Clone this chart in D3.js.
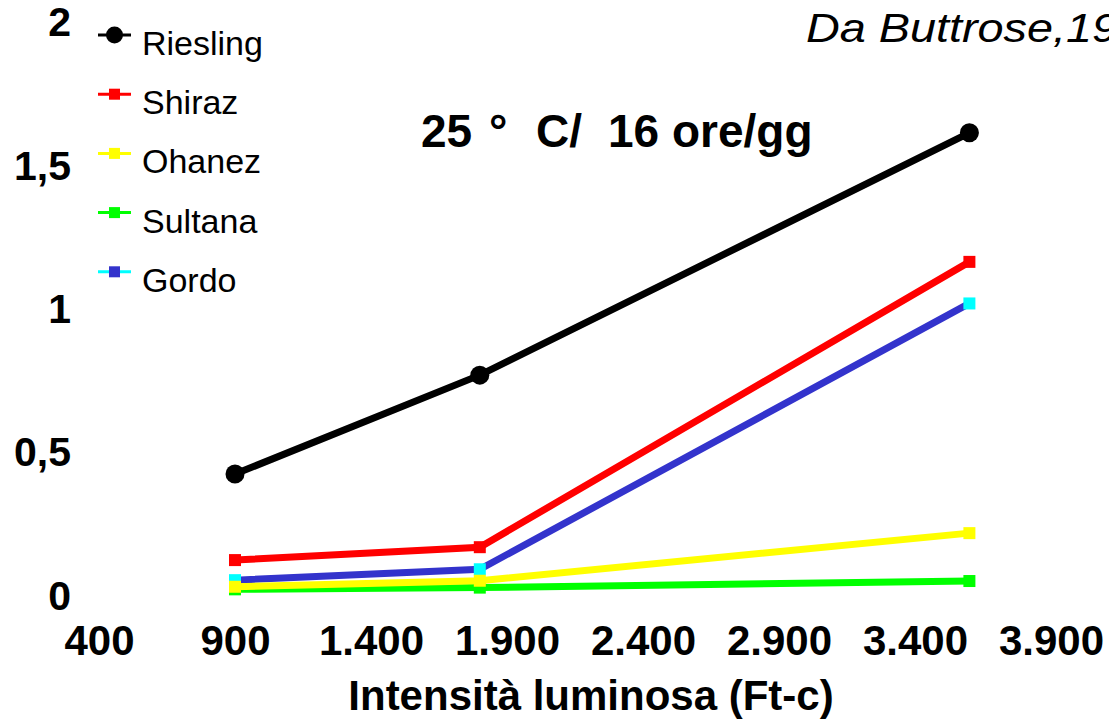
<!DOCTYPE html>
<html>
<head>
<meta charset="utf-8">
<script src="https://cdn.jsdelivr.net/npm/d3@7"></script>
<style>
  html, body { margin: 0; padding: 0; background: #fff; }
  svg { display: block; }
  text { font-family: "Liberation Sans", Arial, Helvetica, sans-serif; fill: #000; }
</style>
</head>
<body>
<svg id="chart" width="1109" height="719"></svg>
<script>
// Light intensity levels (foot-candles)
const intensities = [900, 1800, 3600];

// Response per cultivar at 25 °C / 16 h photoperiod
const riesling = [0.42, 0.765, 1.61];
const shiraz   = [0.12, 0.165, 1.16];
const ohanez   = [0.027, 0.048, 0.214];
const sultana  = [0.018, 0.024, 0.047];
const gordo    = [0.05, 0.088, 1.015];

// Axis ticks
const xTicks = [400, 900, 1400, 1900, 2400, 2900, 3400, 3900];
const yTicks = [0, 0.5, 1, 1.5, 2];

const seriesNames = ["Riesling", "Shiraz", "Ohanez", "Sultana", "Gordo"];

const series = [
  { name: "Riesling", values: riesling, line: "#000000", marker: "#000000", shape: "circle",
    legendLine: "#000000", legendMarker: "#000000" },
  { name: "Shiraz", values: shiraz, line: "#ff0000", marker: "#ff0000", shape: "square",
    legendLine: "#ff0000", legendMarker: "#ff0000" },
  { name: "Ohanez", values: ohanez, line: "#ffff00", marker: "#ffff00", shape: "square",
    legendLine: "#ffff00", legendMarker: "#ffff00" },
  { name: "Sultana", values: sultana, line: "#00ff00", marker: "#00ff00", shape: "square",
    legendLine: "#00ff00", legendMarker: "#00ff00" },
  { name: "Gordo", values: gordo, line: "#3333cc", marker: "#00ffff", shape: "square",
    legendLine: "#00ffff", legendMarker: "#3333cc" }
];

// Stacking order of the plotted series (last on top)
const drawOrder = ["Riesling", "Shiraz", "Gordo", "Sultana", "Ohanez"];

const svg = d3.select("#chart");

const x = d3.scaleLinear().domain([400, 3900]).range([99, 1051]);
const y = d3.scaleLinear().domain([0, 2]).range([594.5, 21]);

const it = d3.formatLocale({ decimal: ",", thousands: ".", grouping: [3], currency: ["€", ""] });
const fmtX = it.format(",");
const fmtY = it.format("~g");

// X axis: labels only
const gx = svg.append("g")
  .attr("transform", "translate(0,655)")
  .call(d3.axisBottom(x).tickValues(xTicks).tickFormat(fmtX).tickSize(0).tickPadding(0));
gx.select(".domain").remove();
gx.selectAll("text")
  .attr("y", 0).attr("dy", null)
  .style("font-family", '"Liberation Sans", Arial, sans-serif')
  .style("font-size", "42px").style("font-weight", "bold").attr("fill", "#000");

// Y axis: labels only
const gy = svg.append("g")
  .attr("transform", "translate(71,0)")
  .call(d3.axisLeft(y).tickValues(yTicks).tickFormat(fmtY).tickSize(0).tickPadding(0));
gy.select(".domain").remove();
gy.selectAll("text")
  .attr("x", 0).attr("dy", "0.36em")
  .style("font-family", '"Liberation Sans", Arial, sans-serif')
  .style("font-size", "41px").style("font-weight", "bold").attr("fill", "#000");

// Lines and markers
const line = d3.line().x((d, i) => x(intensities[i])).y(d => y(d));
const sq = 12;

drawOrder.forEach(name => {
  const s = series.find(d => d.name === name);
  const g = svg.append("g").attr("class", "series");
  g.append("path")
    .datum(s.values)
    .attr("d", line)
    .attr("fill", "none")
    .attr("stroke", s.line)
    .attr("stroke-width", 7)
    .attr("stroke-linejoin", "miter");
  if (s.shape === "circle") {
    g.selectAll("circle").data(s.values).join("circle")
      .attr("cx", (d, i) => x(intensities[i]))
      .attr("cy", d => y(d))
      .attr("r", 9.5)
      .attr("fill", s.marker);
  } else {
    g.selectAll("rect").data(s.values).join("rect")
      .attr("x", (d, i) => x(intensities[i]) - sq / 2)
      .attr("y", d => y(d) - sq / 2)
      .attr("width", sq).attr("height", sq)
      .attr("fill", s.marker);
  }
});

// Legend
const legend = svg.append("g").attr("transform", "translate(98,35)");
const legendStep = 59.2;
seriesNames.forEach((name, i) => {
  const s = series.find(d => d.name === name);
  const row = legend.append("g").attr("transform", `translate(0,${i * legendStep})`);
  row.append("line")
    .attr("x1", 0).attr("x2", 33).attr("y1", 0).attr("y2", 0)
    .attr("stroke", s.legendLine).attr("stroke-width", 3);
  if (s.shape === "circle") {
    row.append("circle").attr("cx", 16.5).attr("cy", 0).attr("r", 8.5).attr("fill", s.legendMarker);
  } else {
    row.append("rect").attr("x", 11).attr("y", -5.5).attr("width", 11).attr("height", 11)
      .attr("fill", s.legendMarker);
  }
  row.append("text")
    .attr("x", 44).attr("y", 20)
    .style("font-size", "34px")
    .text(s.name);
});

// Condition title
const title = svg.append("text")
  .attr("y", 147)
  .style("font-size", "46px").style("font-weight", "bold");
title.append("tspan").attr("x", 421).text("25");
title.append("tspan").attr("x", 489).text("°");
title.append("tspan").attr("x", 536).text("C/");
title.append("tspan").attr("x", 608).text("16 ore/gg");

// Source note (wide italic face)
svg.append("text")
  .attr("transform", "translate(806,42) scale(1.17,1)")
  .style("font-size", "40px").style("font-style", "italic")
  .text("Da Buttrose,1970");

// X axis title
svg.append("text")
  .attr("x", 591).attr("y", 710)
  .attr("text-anchor", "middle")
  .style("font-size", "42px").style("font-weight", "bold")
  .text("Intensità luminosa (Ft-c)");
</script>
</body>
</html>
